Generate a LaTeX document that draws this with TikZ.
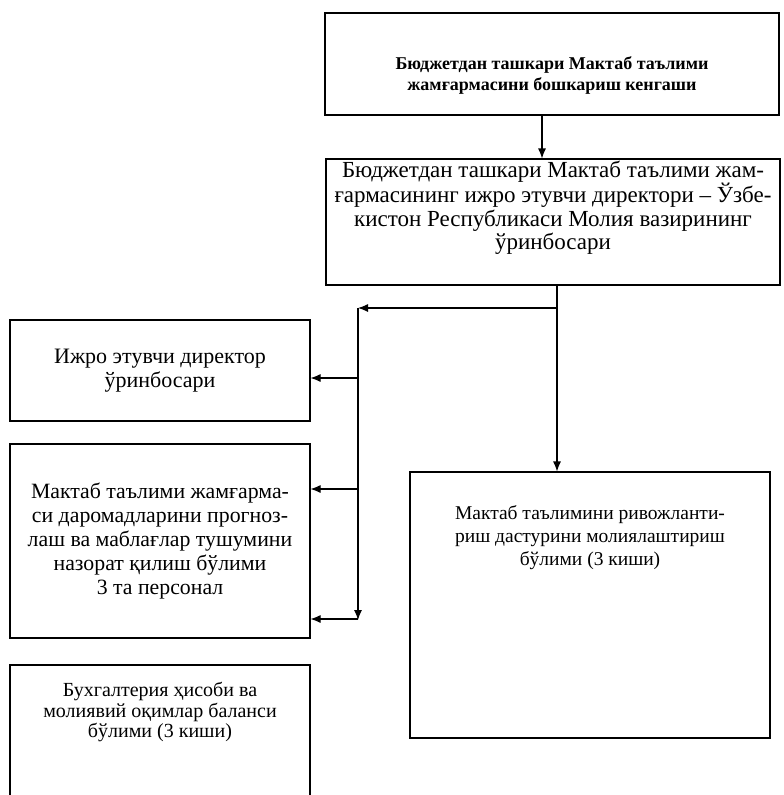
\documentclass[tikz,border=0pt]{standalone}
\usepackage{fontspec}
\setmainfont{Liberation Serif}
\usetikzlibrary{arrows.meta,positioning}

\begin{document}
\begin{tikzpicture}[x=1pt, y=-1pt,
                   box/.style={draw, line width=1.1pt, inner sep=0pt, align=center,
                               font=\fontsize{22}{24.5}\selectfont},
                   txt/.style={align=center, inner sep=0pt, font=\fontsize{21}{24}\selectfont},
                   boldtxt/.style={txt, font=\bfseries\fontsize{18}{21}\selectfont},
                   arr/.style={line width=1.1pt, -{Latex[length=10pt,width=8pt]}},
                   link/.style={line width=1.1pt}]
    \useasboundingbox (0,0) rectangle (784,795);
    \node[box, minimum width=454pt, minimum height=102pt,
          label={[boldtxt, yshift=-11pt]center:{Бюджетдан ташкари Мактаб таълими\\жамғармасини бошкариш кенгаши}}]
          (council) at (552,64) {};
    \node[box, minimum width=454pt, minimum height=126pt,
          label={[txt, yshift=14pt, font=\fontsize{23}{23.5}\selectfont]center:{Бюджетдан ташкари Мактаб таълими жам-\\ғармасининг ижро этувчи директори -- Ўзбе-\\кистон Республикаси Молия вазирининг\\ўринбосари}}]
          (director) at (553,222) {};
    \node[box, minimum width=300pt, minimum height=101pt] (deputy) at (160,370.5)
          {Ижро этувчи директор\\ўринбосари};
    \node[box, minimum width=300pt, minimum height=194pt,
          font=\fontsize{21.8}{24}\selectfont] (forecast) at (160,541)
          {Мактаб таълими жамғарма-\\си даромадларини прогноз-\\лаш ва маблағлар тушумини\\назорат қилиш бўлими\\3 та персонал};
    \node[box, minimum width=360pt, minimum height=266pt,
          label={[txt, yshift=67pt, font=\fontsize{19.5}{23}\selectfont]center:{Мактаб таълимини ривожланти-\\риш дастурини молиялаштириш\\бўлими (3 киши)}}]
          (program) at (590,605) {};
    \node[box, minimum width=300pt, minimum height=160pt,
          label={[txt, yshift=33pt, font=\fontsize{20}{20.5}\selectfont]center:{Бухгалтерия ҳисоби ва\\молиявий оқимлар баланси\\бўлими (3 киши)}}]
          (accounting) at (160,745) {};
    % connectors
    \coordinate (trunk) at (557,308);
    \coordinate (bus) at (358,308);
    \coordinate (busend) at (358,619);
    \draw[arr] ([xshift=-10pt]council.south) -- ([xshift=-11pt]director.north);
    \draw[link] (director.south -| trunk) -- (trunk);
    \draw[arr] (trunk) -- (trunk |- program.north);
    \draw[arr] (trunk) -- (bus);
    \draw[arr] (bus) -- ([yshift=-1pt]busend);
    \draw[arr] ([yshift=-7.5pt]bus |- deputy.east) -- ([yshift=-7.5pt]deputy.east);
    \draw[arr] (bus |- 0,489) -- (forecast.east |- 0,489);
    \draw[arr] (busend) -- (forecast.east |- busend);
\end{tikzpicture}
\end{document}
